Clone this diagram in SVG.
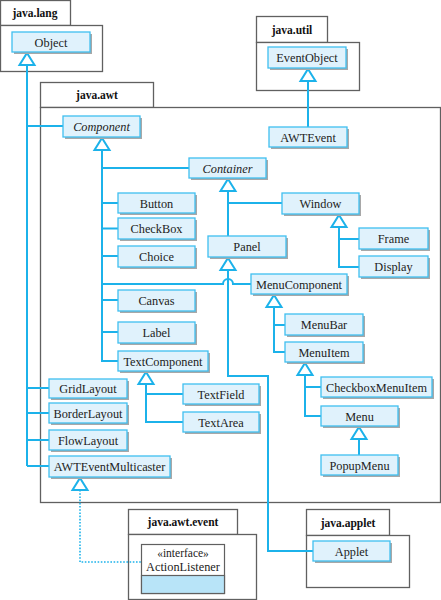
<svg xmlns="http://www.w3.org/2000/svg" width="441" height="600" viewBox="0 0 441 600" font-family="'Liberation Serif', 'Times New Roman', 'DejaVu Serif', serif">
<style>
text{font-family:'Liberation Serif','Times New Roman','DejaVu Serif',serif}
.pkg{fill:#fff;stroke:#606060;stroke-width:1.3}
.pl{font-weight:bold;font-size:11.5px;fill:#111;text-anchor:middle}
.sh{fill:#a8a8a8}
.bx{fill:#e0f2fc;stroke:#3fbff0;stroke-width:1.3}
.t{font-size:12.3px;fill:#222;text-anchor:middle}
.it{font-style:italic}
.c{fill:none;stroke:#1cb2ea;stroke-width:2}
.dot{fill:none;stroke:#1cb2ea;stroke-width:1.6;stroke-dasharray:1.6,1.6}
.tri{fill:#fff;stroke:#1cb2ea;stroke-width:2;stroke-linejoin:miter}
</style>
<defs>
<path id="tri" d="M0,0 L7.5,12 L-7.5,12 Z"/>
</defs>
<rect width="441" height="600" fill="#fff"/>

<g id="pkg-java-lang">
<rect class="pkg" x="0.5" y="0.5" width="70" height="25"/>
<rect class="pkg" x="0.5" y="25.5" width="102" height="46"/>
<text class="pl" x="35" y="17">java.lang</text>
</g>
<g id="pkg-java-util">
<rect class="pkg" x="256.5" y="16.5" width="71" height="26"/>
<rect class="pkg" x="256.5" y="42.5" width="103" height="48"/>
<text class="pl" x="292" y="34">java.util</text>
</g>
<g id="pkg-java-awt">
<rect class="pkg" x="40.5" y="82.5" width="113" height="25"/>
<rect class="pkg" x="40.5" y="107.5" width="400" height="395"/>
<text class="pl" x="97" y="99">java.awt</text>
</g>
<g id="pkg-java-awt-event">
<rect class="pkg" x="128.5" y="509.5" width="109" height="25"/>
<rect class="pkg" x="128.5" y="534.5" width="128" height="65"/>
<text class="pl" x="183" y="526">java.awt.event</text>
</g>
<g id="pkg-java-applet">
<rect class="pkg" x="306.5" y="509.5" width="83" height="26"/>
<rect class="pkg" x="306.5" y="535.5" width="103" height="52"/>
<text class="pl" x="348" y="527">java.applet</text>
</g>

<g id="connectors">
<path class="c" d="M27,65 V466 M27,126 H63 M27,388 H49 M27,413 H49 M27,440 H49 M27,466 H49"/>
<path class="c" d="M308,81 V127"/>
<path class="c" d="M102,150 V361 H118 M102,168 H189 M102,203 H118 M102,228.5 H118 M102,256 H118 M102,300 H118 M102,332 H118"/>
<path class="c" d="M102,284 H223 A5,5 0 0 1 233,284 H251"/>
<path class="c" d="M228,191 V236 M228,203 H282"/>
<path class="c" d="M228,270 V376 H268 V551 H313"/>
<path class="c" d="M339,227 V267 H359 M339,239 H359"/>
<path class="c" d="M274,307 V352 H285 M274,325 H285"/>
<path class="c" d="M305,375 V416 H321 M305,387 H321"/>
<path class="c" d="M359,439 V455"/>
<path class="c" d="M146,384 V422 H183 M146,394 H183"/>
<path class="dot" d="M80,490 V562 H141"/>
<use href="#tri" class="tri" x="27" y="53"/>
<use href="#tri" class="tri" x="308" y="69"/>
<use href="#tri" class="tri" x="102" y="138"/>
<use href="#tri" class="tri" x="228" y="179"/>
<use href="#tri" class="tri" x="228" y="258"/>
<use href="#tri" class="tri" x="339" y="215"/>
<use href="#tri" class="tri" x="274" y="295"/>
<use href="#tri" class="tri" x="305" y="363"/>
<use href="#tri" class="tri" x="359" y="427"/>
<use href="#tri" class="tri" x="146" y="372"/>
<use href="#tri" class="tri" x="80" y="478"/>
</g>

<g id="Object"><rect class="sh" x="14" y="34" width="78" height="20"/><rect class="bx" x="12" y="32" width="78" height="20"/><text class="t" x="51" y="46.5">Object</text></g>
<g id="EventObject"><rect class="sh" x="270" y="49" width="78" height="21"/><rect class="bx" x="268" y="47" width="78" height="21"/><text class="t" x="307" y="62">EventObject</text></g>
<g id="AWTEvent"><rect class="sh" x="271" y="129" width="78" height="20"/><rect class="bx" x="269" y="127" width="78" height="20"/><text class="t" x="308" y="141.5">AWTEvent</text></g>
<g id="Component"><rect class="sh" x="65" y="118" width="77" height="21"/><rect class="bx" x="63" y="116" width="77" height="21"/><text class="t it" x="101.5" y="131">Component</text></g>
<g id="Container"><rect class="sh" x="191" y="160" width="77" height="20"/><rect class="bx" x="189" y="158" width="77" height="20"/><text class="t it" x="227.5" y="172.5">Container</text></g>
<g id="Button"><rect class="sh" x="120" y="195" width="77" height="20"/><rect class="bx" x="118" y="193" width="77" height="20"/><text class="t" x="156.5" y="207.5">Button</text></g>
<g id="CheckBox"><rect class="sh" x="120" y="220" width="77" height="21"/><rect class="bx" x="118" y="218" width="77" height="21"/><text class="t" x="156.5" y="233">CheckBox</text></g>
<g id="Choice"><rect class="sh" x="120" y="248" width="77" height="21"/><rect class="bx" x="118" y="246" width="77" height="21"/><text class="t" x="156.5" y="261">Choice</text></g>
<g id="Canvas"><rect class="sh" x="120" y="292" width="77" height="21"/><rect class="bx" x="118" y="290" width="77" height="21"/><text class="t" x="156.5" y="305">Canvas</text></g>
<g id="Label"><rect class="sh" x="120" y="324" width="77" height="21"/><rect class="bx" x="118" y="322" width="77" height="21"/><text class="t" x="156.5" y="337">Label</text></g>
<g id="TextComponent"><rect class="sh" x="120" y="353" width="90" height="20"/><rect class="bx" x="118" y="351" width="90" height="20"/><text class="t" x="163" y="365.5">TextComponent</text></g>
<g id="Window"><rect class="sh" x="284" y="195" width="77" height="21"/><rect class="bx" x="282" y="193" width="77" height="21"/><text class="t" x="320.5" y="208">Window</text></g>
<g id="Panel"><rect class="sh" x="210" y="238" width="78" height="21"/><rect class="bx" x="208" y="236" width="78" height="21"/><text class="t" x="247" y="251">Panel</text></g>
<g id="Frame"><rect class="sh" x="361" y="230" width="69" height="21"/><rect class="bx" x="359" y="228" width="69" height="21"/><text class="t" x="393.5" y="243">Frame</text></g>
<g id="Display"><rect class="sh" x="361" y="258" width="69" height="21"/><rect class="bx" x="359" y="256" width="69" height="21"/><text class="t" x="393.5" y="271">Display</text></g>
<g id="MenuComponent"><rect class="sh" x="253" y="276" width="96" height="20"/><rect class="bx" x="251" y="274" width="96" height="20"/><text class="t" x="299" y="288.5">MenuComponent</text></g>
<g id="MenuBar"><rect class="sh" x="287" y="316" width="78" height="21"/><rect class="bx" x="285" y="314" width="78" height="21"/><text class="t" x="324" y="329">MenuBar</text></g>
<g id="MenuItem"><rect class="sh" x="287" y="344" width="78" height="20"/><rect class="bx" x="285" y="342" width="78" height="20"/><text class="t" x="324" y="356.5">MenuItem</text></g>
<g id="CheckboxMenuItem"><rect class="sh" x="323" y="379" width="111" height="20"/><rect class="bx" x="321" y="377" width="111" height="20"/><text class="t" x="376.5" y="391.5">CheckboxMenuItem</text></g>
<g id="Menu"><rect class="sh" x="323" y="408" width="77" height="20"/><rect class="bx" x="321" y="406" width="77" height="20"/><text class="t" x="359.5" y="420.5">Menu</text></g>
<g id="PopupMenu"><rect class="sh" x="323" y="457" width="77" height="20"/><rect class="bx" x="321" y="455" width="77" height="20"/><text class="t" x="359.5" y="469.5">PopupMenu</text></g>
<g id="TextField"><rect class="sh" x="185" y="386" width="76" height="20"/><rect class="bx" x="183" y="384" width="76" height="20"/><text class="t" x="221" y="398.5">TextField</text></g>
<g id="TextArea"><rect class="sh" x="185" y="414" width="76" height="20"/><rect class="bx" x="183" y="412" width="76" height="20"/><text class="t" x="221" y="426.5">TextArea</text></g>
<g id="GridLayout"><rect class="sh" x="51" y="381" width="78" height="19"/><rect class="bx" x="49" y="379" width="78" height="19"/><text class="t" x="88" y="393">GridLayout</text></g>
<g id="BorderLayout"><rect class="sh" x="51" y="405" width="78" height="20"/><rect class="bx" x="49" y="403" width="78" height="20"/><text class="t" x="88" y="417.5">BorderLayout</text></g>
<g id="FlowLayout"><rect class="sh" x="51" y="432" width="78" height="20"/><rect class="bx" x="49" y="430" width="78" height="20"/><text class="t" x="88" y="444.5">FlowLayout</text></g>
<g id="AWTEventMulticaster"><rect class="sh" x="51" y="458" width="121" height="21"/><rect class="bx" x="49" y="456" width="121" height="21"/><text class="t" x="109.5" y="471">AWTEventMulticaster</text></g>
<g id="Applet"><rect class="sh" x="315" y="543" width="77" height="20"/><rect class="bx" x="313" y="541" width="77" height="20"/><text class="t" x="351.5" y="555.5">Applet</text></g>
<g id="ActionListener">
<rect x="141.5" y="544.5" width="83" height="49" fill="#fff" stroke="#606060" stroke-width="1.2"/>
<rect x="141.5" y="575.5" width="83" height="18" fill="#b8e4f8" stroke="#606060" stroke-width="1.2"/>
<text class="t" x="183" y="557" style="font-size:11.5px">«interface»</text>
<text class="t" x="183" y="571">ActionListener</text>
</g>
</svg>
